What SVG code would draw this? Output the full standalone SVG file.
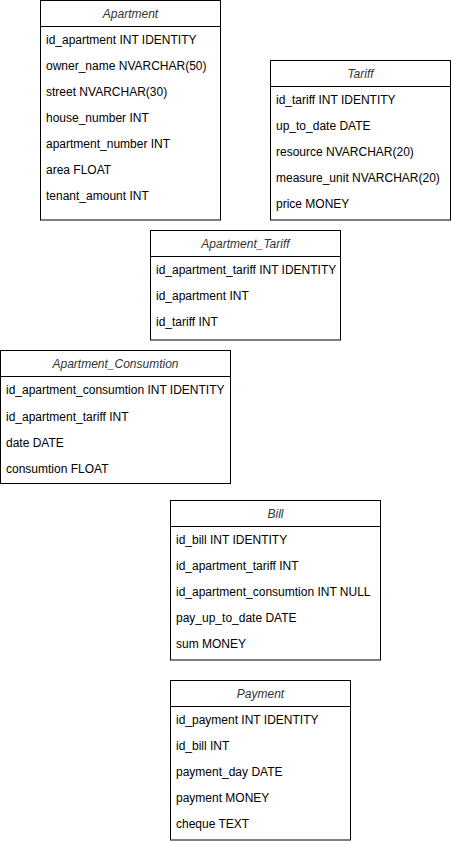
<svg xmlns="http://www.w3.org/2000/svg" width="451" height="841" viewBox="0 0 451 841">
<style>
.box{fill:#fff;stroke:#000;stroke-width:1}
.sep{stroke:#000;stroke-width:1}
.h{font-family:"Liberation Sans",Arial,sans-serif;font-size:12px;font-style:italic;fill:#333;text-anchor:middle}
.r{font-family:"Liberation Sans",Arial,sans-serif;font-size:12px;fill:#000}
</style>
<rect width="451" height="841" fill="#fff"/>
<g id="connectors"></g>
<g id="Apartment">
<rect class="box" x="40.5" y="0.5" width="180" height="219.5"/>
<line class="sep" x1="40.5" y1="26.5" x2="220.5" y2="26.5"/>
<text class="h" x="130.5" y="18">Apartment</text>
<text class="r" x="46" y="44">id_apartment INT IDENTITY</text>
<text class="r" x="46" y="70">owner_name NVARCHAR(50)</text>
<text class="r" x="46" y="96">street NVARCHAR(30)</text>
<text class="r" x="46" y="122">house_number INT</text>
<text class="r" x="46" y="148">apartment_number INT</text>
<text class="r" x="46" y="174">area FLOAT</text>
<text class="r" x="46" y="200">tenant_amount INT</text>
</g>
<g id="Tariff">
<rect class="box" x="270.5" y="60.5" width="180" height="159.5"/>
<line class="sep" x1="270.5" y1="86.5" x2="450.5" y2="86.5"/>
<text class="h" x="360.5" y="78">Tariff</text>
<text class="r" x="276" y="104">id_tariff INT IDENTITY</text>
<text class="r" x="276" y="130">up_to_date DATE</text>
<text class="r" x="276" y="156">resource NVARCHAR(20)</text>
<text class="r" x="276" y="182">measure_unit NVARCHAR(20)</text>
<text class="r" x="276" y="208">price MONEY</text>
</g>
<g id="Apartment_Tariff">
<rect class="box" x="150.5" y="230.5" width="190" height="109.5"/>
<line class="sep" x1="150.5" y1="256.5" x2="340.5" y2="256.5"/>
<text class="h" x="245.5" y="248">Apartment_Tariff</text>
<text class="r" x="156" y="274">id_apartment_tariff INT IDENTITY</text>
<text class="r" x="156" y="300">id_apartment INT</text>
<text class="r" x="156" y="326">id_tariff INT</text>
</g>
<g id="Apartment_Consumtion">
<rect class="box" x="0.5" y="350.5" width="230" height="133"/>
<line class="sep" x1="0.5" y1="376.5" x2="230.5" y2="376.5"/>
<text class="h" x="115.5" y="368">Apartment_Consumtion</text>
<text class="r" x="6" y="394">id_apartment_consumtion INT IDENTITY</text>
<text class="r" x="6" y="420.5">id_apartment_tariff INT</text>
<text class="r" x="6" y="446.5">date DATE</text>
<text class="r" x="6" y="473">consumtion FLOAT</text>
</g>
<g id="Bill">
<rect class="box" x="170.5" y="500.5" width="210" height="159.5"/>
<line class="sep" x1="170.5" y1="526.5" x2="380.5" y2="526.5"/>
<text class="h" x="275.5" y="518">Bill</text>
<text class="r" x="176" y="544">id_bill INT IDENTITY</text>
<text class="r" x="176" y="570">id_apartment_tariff INT</text>
<text class="r" x="176" y="596">id_apartment_consumtion INT NULL</text>
<text class="r" x="176" y="622">pay_up_to_date DATE</text>
<text class="r" x="176" y="648">sum MONEY</text>
</g>
<g id="Payment">
<rect class="box" x="170.5" y="680.5" width="180" height="159.5"/>
<line class="sep" x1="170.5" y1="706.5" x2="350.5" y2="706.5"/>
<text class="h" x="260.5" y="698">Payment</text>
<text class="r" x="176" y="724">id_payment INT IDENTITY</text>
<text class="r" x="176" y="750">id_bill INT</text>
<text class="r" x="176" y="776">payment_day DATE</text>
<text class="r" x="176" y="802">payment MONEY</text>
<text class="r" x="176" y="828">cheque TEXT</text>
</g>
</svg>
